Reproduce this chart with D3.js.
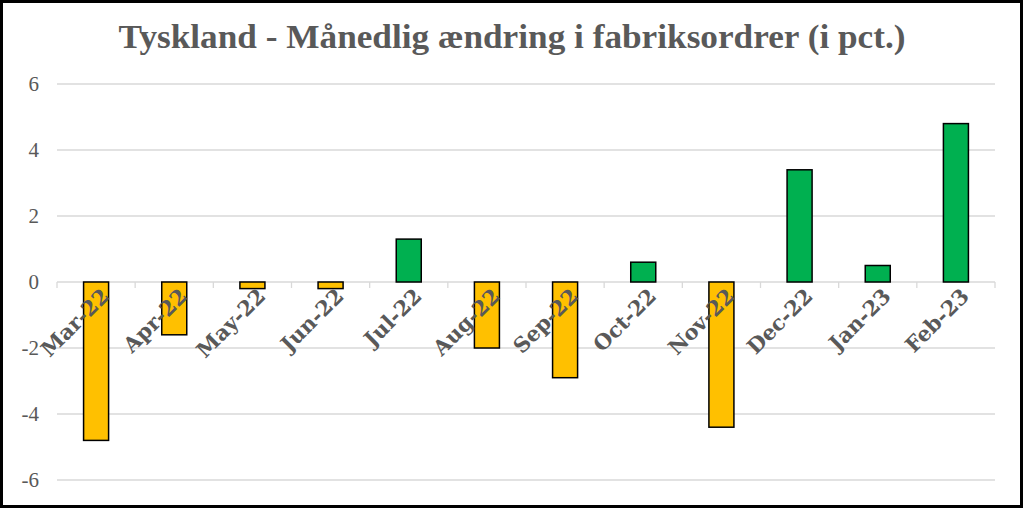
<!DOCTYPE html>
<html><head><meta charset="utf-8">
<script src="https://cdn.jsdelivr.net/npm/d3@7"></script>
<style>body{margin:0;background:#fff}svg{display:block}</style>
</head><body>
<script>
const categories = ["Mar-22","Apr-22","May-22","Jun-22","Jul-22","Aug-22","Sep-22","Oct-22","Nov-22","Dec-22","Jan-23","Feb-23"];
const values = [-4.8,-1.6,-0.2,-0.2,1.3,-2.0,-2.9,0.6,-4.4,3.4,0.5,4.8];
const yTicks = [-6,-4,-2,0,2,4,6];
const title = "Tyskland - Månedlig ændring i fabriksordrer (i pct.)";

const W=1024,H=509;
const svg=d3.select("body").append("svg").attr("width",W).attr("height",H);
svg.append("rect").attr("x",1.5).attr("y",1.5).attr("width",W-4).attr("height",H-4).attr("fill","#fff").attr("stroke","#000").attr("stroke-width",3);

const x=d3.scaleBand().domain(categories).range([57,995]).paddingInner(0.68).paddingOuter(0.34);
const y=d3.scaleLinear().domain([-6,6]).range([480,84]);
const serif="'DejaVu Serif','Liberation Serif',serif";

svg.append("text").attr("x",512).attr("y",48).attr("text-anchor","middle")
 .attr("font-family","'Liberation Serif',serif").attr("font-weight","bold").attr("font-size",33)
 .attr("fill","#595959").attr("textLength",787).attr("lengthAdjust","spacingAndGlyphs").text(title);

// grid
svg.append("g").selectAll("line").data(yTicks).join("line")
 .attr("x1",57).attr("x2",995).attr("y1",d=>y(d)).attr("y2",d=>y(d))
 .attr("stroke","#d9d9d9").attr("stroke-width",1.3);

// y labels
const yAxis=d3.axisLeft(y).tickValues(yTicks).tickSize(0).tickPadding(0).tickFormat(d=>String(d));
const ya=svg.append("g").attr("transform","translate(39,0)").call(yAxis);
ya.select(".domain").remove();
ya.selectAll("text").attr("font-family","'Liberation Serif',serif").attr("font-size",21).attr("fill","#595959");

// bars
svg.append("g").selectAll("rect").data(values).join("rect")
 .attr("x",(d,i)=>x(categories[i])).attr("width",x.bandwidth())
 .attr("y",d=>y(Math.max(0,d))).attr("height",d=>Math.abs(y(d)-y(0)))
 .attr("fill",d=>d<0?"#FFC000":"#00B050").attr("stroke","#000").attr("stroke-width",1.5);

// zero axis ticks at band boundaries
const step=x.step();
const bounds=d3.range(categories.length+1).map(i=>57+i*step);
svg.append("g").selectAll("line").data(bounds).join("line")
 .attr("x1",d=>d).attr("x2",d=>d).attr("y1",y(0)).attr("y2",y(0)+6)
 .attr("stroke","#d9d9d9").attr("stroke-width",1.3);

// x labels
svg.append("g").selectAll("text").data(categories).join("text")
 .attr("transform",d=>`translate(${x(d)+x.bandwidth()/2+4},${y(0)+5}) rotate(-45)`)
 .attr("text-anchor","end").attr("dy","0.7em")
 .attr("font-family",serif).attr("font-weight","bold").attr("font-size",21)
 .attr("fill","#595959").text(d=>d);
</script>
</body></html>
